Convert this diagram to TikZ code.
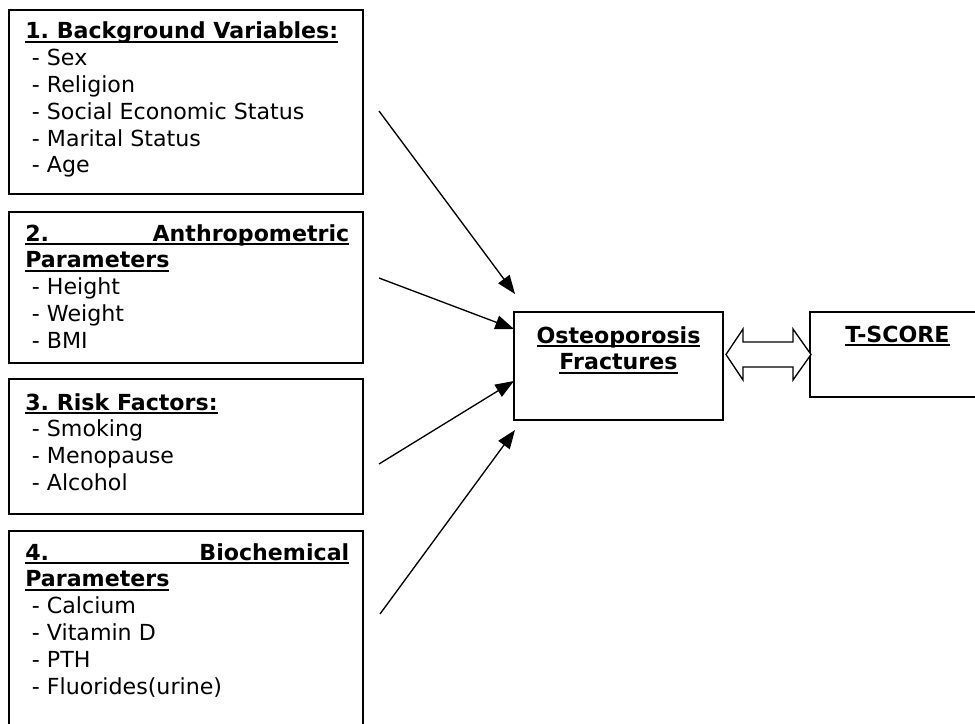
\documentclass[tikz,border=0pt]{standalone}
\usepackage{fontspec}
\setmainfont{DejaVu Sans}
\usetikzlibrary{arrows.meta,fit}
\frenchspacing
\newcommand{\hdul}[1]{\setbox0\hbox{#1}\rlap{\rule[-3pt]{\wd0}{1.7pt}}\box0}
\newcommand{\itm}[1]{\hspace*{5pt}- #1}
\tikzset{
  boxfit/.style={draw, line width=1.4pt, inner sep=0pt},
  txt/.style={anchor=base west, inner sep=0pt, font=\fontsize{16.6}{20.1}\selectfont},
  ctxt/.style={anchor=base, inner sep=0pt, font=\fontsize{16.6}{20.1}\selectfont},
  conn/.style={line width=1pt, -{Triangle[length=14pt,width=10.5pt]}},
}
\begin{document}
\begin{tikzpicture}[x=0.75pt,y=-0.75pt]
\useasboundingbox (0,0) rectangle (975,724);
\fill[white] (0,0) rectangle (975,724);
% boxes
\node[boxfit, fit={(9,10) (363,194)}] (b1) {};
\node[boxfit, fit={(9,212) (363,363)}] (b2) {};
\node[boxfit, fit={(9,379) (363,514)}] (b3) {};
\node[boxfit, fit={(9,531) (363,760)}] (b4) {};
\node[boxfit, fit={(514,312) (723,420)}] (ost) {};
\node[boxfit, fit={(810,312) (990,397)}] (ts) {};
% texts
\node[txt] (t1) at (25,39) {\begin{tabular}[t]{@{}l@{}}
\hdul{\bfseries 1. Background Variables:}\\
\itm{Sex}\\ \itm{Religion}\\ \itm{Social Economic Status}\\ \itm{Marital Status}\\ \itm{Age}
\end{tabular}};
\node[txt] (t2) at (25,241) {\begin{tabular}[t]{@{}l@{}}
\hdul{\bfseries\makebox[243pt]{2.\hfill Anthropometric}}\\
\hdul{\bfseries Parameters}\\
\itm{Height}\\ \itm{Weight}\\ \itm{BMI}
\end{tabular}};
\node[txt] (t3) at (25,410) {\begin{tabular}[t]{@{}l@{}}
\hdul{\bfseries 3. Risk Factors:}\\
\itm{Smoking}\\ \itm{Menopause}\\ \itm{Alcohol}
\end{tabular}};
\node[txt] (t4) at (25,560) {\begin{tabular}[t]{@{}l@{}}
\hdul{\bfseries\makebox[243pt]{4.\hfill Biochemical}}\\
\hdul{\bfseries Parameters}\\
\itm{Calcium}\\ \itm{Vitamin D}\\ \itm{PTH}\\ \itm{Fluorides(urine)}
\end{tabular}};
\node[ctxt] (to) at (618.5,343) {\begin{tabular}[t]{@{}c@{}}
\hdul{\bfseries Osteoporosis}\\ \hdul{\bfseries Fractures}
\end{tabular}};
\node[ctxt] (tt) at (897.5,342) {\hdul{\bfseries T-SCORE}};
% connectors
\coordinate (s1) at (379,111); \coordinate (e1) at (515,294);
\coordinate (s2) at (379,278); \coordinate (e2) at (514,329);
\coordinate (s3) at (379,464); \coordinate (e3) at (514,381);
\coordinate (s4) at (380,614); \coordinate (e4) at (515,430);
\draw[conn] (s1) -- (e1);
\draw[conn] (s2) -- (e2);
\draw[conn] (s3) -- (e3);
\draw[conn] (s4) -- (e4);
% double arrow between ost and ts
\coordinate (dl) at (726,354.5);
\coordinate (dr) at (811,354.5);
\draw[line width=1pt, fill=white, line join=miter]
  (dl) -- (743,329) -- (743,342) -- (793,342) -- (793,329) -- (dr)
  -- (793,380) -- (793,367) -- (743,367) -- (743,380) -- cycle;
\end{tikzpicture}
\end{document}
